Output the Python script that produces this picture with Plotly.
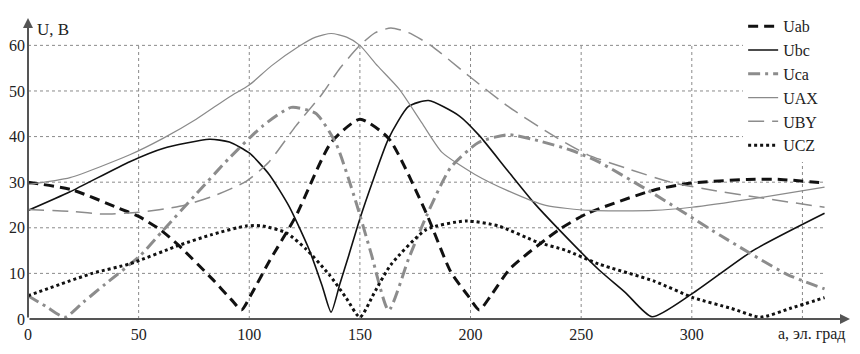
import plotly.graph_objects as go

# ---------------- data ----------------
x_grid = [0, 50, 100, 150, 200, 250, 300, 350]
x_ticks = [0, 50, 100, 150, 200, 250, 300]
y_ticks = [0, 10, 20, 30, 40, 50, 60]

uab_x = [0, 20, 41, 50, 60, 68, 83, 92, 96.5, 101, 109, 121, 137, 150, 163, 180, 191, 199, 204, 209, 218, 240, 253, 283, 300, 325, 340, 360]
uab_y = [30, 28.3, 24.3, 22.5, 19.5, 16.2, 8.9, 4.2, 2, 5.5, 12.6, 22.5, 38.7, 43.8, 39.6, 23.2, 10.4, 5, 2, 5, 11.1, 19.6, 23.2, 28.3, 29.8, 30.6, 30.6, 29.8]

ubc_x = [0, 19, 46, 61, 82, 91, 100, 109, 118, 127, 133, 137, 141, 145, 150, 156, 163, 172, 181, 195, 204, 217, 229, 240, 258, 270, 282, 300, 328, 360]
ubc_y = [23.8, 27.9, 34.5, 37.4, 39.4, 38.8, 36.4, 31.7, 24.7, 15.3, 7.2, 1.5, 7.8, 14, 22, 30.5, 39.6, 46.6, 47.9, 44.5, 40.2, 32.4, 25.3, 19.6, 10.8, 5.8, 0.5, 5.5, 15.1, 23.2]

uca_x = [0, 8, 16.7, 25, 35, 50.5, 61, 76, 91, 106, 119, 130, 139, 148, 155, 163, 172, 180, 191, 203.6, 217, 230.6, 245.5, 257.7, 283, 313, 343, 360]
uca_y = [5.1, 2.8, 0.4, 3.7, 7.7, 13.8, 19.4, 27.4, 35.3, 42.3, 46.4, 45.1, 38.7, 26, 14.5, 1.9, 13.2, 22.5, 33.2, 38.7, 40.4, 39.1, 37, 34.5, 27.4, 18.3, 9.8, 6.6]

uax_x = [0, 19, 46, 61, 76, 91, 100, 110, 122.5, 130, 137, 144, 150, 158, 167.6, 178, 187, 202, 217, 234, 254, 283, 300, 328, 360]
uax_y = [29.5, 31, 36, 39.6, 43.8, 48.7, 51.3, 55.5, 59.8, 61.8, 62.6, 61.8, 60, 55.5, 50.5, 43, 36.6, 31.7, 28.1, 24.9, 23.8, 23.8, 24.5, 26.4, 28.9]

uby_x = [0, 20, 34, 50, 68.5, 83, 98.6, 109, 121, 133, 141, 150, 157, 164, 172, 182, 200, 217, 235, 253, 272, 290.5, 310, 328, 360]
uby_y = [24, 23.6, 23, 23.4, 24.7, 26.8, 30.2, 34.5, 42.3, 49.4, 55, 60, 62.8, 63.8, 62.8, 60, 53, 46.6, 40.9, 36, 32.8, 30, 28.2, 26.8, 24.5]

ucz_x = [0, 29, 46, 68.5, 83, 98.6, 106, 116.7, 125.7, 136, 143.7, 150, 157, 164, 180, 198, 212.6, 230.6, 242.8, 257.7, 283, 300.5, 318, 331, 345, 360]
ucz_y = [5.1, 10, 12.1, 16.2, 18.5, 20.4, 20.4, 18.9, 15.3, 9.8, 4.7, 0.4, 6.2, 11.9, 19.6, 21.5, 20.4, 16.8, 15.1, 12.1, 8.3, 4.7, 2.3, 0.4, 2.4, 4.7]

series = [
    ("Uab", uab_x, uab_y, dict(color="#111111", width=3, dash="10px,6px")),
    ("Ubc", ubc_x, ubc_y, dict(color="#111111", width=1.6, dash="solid")),
    ("Uca", uca_x, uca_y, dict(color="#8c8c8c", width=3, dash="12px,5px,3px,5px")),
    ("UAX", uax_x, uax_y, dict(color="#8a8a8a", width=1.2, dash="solid")),
    ("UBY", uby_x, uby_y, dict(color="#8c8c8c", width=1.5, dash="16px,8px")),
    ("UCZ", ucz_x, ucz_y, dict(color="#111111", width=3, dash="3px,3px")),
]

FONT = "Liberation Serif, DejaVu Serif, serif"

fig = go.Figure()
for name, xs, ys, ln in series:
    fig.add_trace(go.Scatter(x=xs, y=ys, mode="lines", name=name,
                             line=dict(shape="spline", smoothing=0.6, **ln)))

# grid lines (limited to data area 0..360, 0..60)
shapes = []
for xv in x_grid[1:]:
    shapes.append(dict(type="line", xref="x", yref="y", x0=xv, x1=xv, y0=0, y1=y_ticks[-1],
                       line=dict(color="#8a8a8a", width=1, dash="dot"), layer="below"))
for yv in y_ticks[1:]:
    shapes.append(dict(type="line", xref="x", yref="y", x0=0, x1=360, y0=yv, y1=yv,
                       line=dict(color="#8a8a8a", width=1, dash="dot"), layer="below"))

annotations = [
    # axis lines with arrows
    dict(x=371.5, y=0, ax=0, ay=0, xref="x", yref="y", axref="x", ayref="y", text="",
         showarrow=True, arrowhead=2, arrowsize=1, arrowwidth=2, arrowcolor="#555555"),
    dict(x=0, y=66, ax=0, ay=0, xref="x", yref="y", axref="x", ayref="y", text="",
         showarrow=True, arrowhead=2, arrowsize=1, arrowwidth=2, arrowcolor="#555555"),
    dict(x=3, y=63.5, xref="x", yref="y", text="U, B", showarrow=False,
         xanchor="left", yanchor="middle", font=dict(family=FONT, size=17, color="#222222")),
    dict(x=1.0, y=0, xref="paper", yref="paper", text="a, эл. град", showarrow=False,
         xanchor="right", yanchor="top", yshift=-4, xshift=-3,
         font=dict(family=FONT, size=16, color="#222222")),
]

fig.update_layout(
    width=860, height=354,
    margin=dict(l=28, r=10, t=9, b=35),
    plot_bgcolor="white", paper_bgcolor="white",
    font=dict(family=FONT, size=16, color="#222222"),
    shapes=shapes, annotations=annotations,
    legend=dict(x=0.870, y=1.029, xanchor="left", yanchor="top", bgcolor="white",
                font=dict(family=FONT, size=16, color="#222222"), borderwidth=0),
    showlegend=True,
)
fig.update_xaxes(range=[0, 371.5], tickvals=x_ticks, ticktext=[str(v) for v in x_ticks],
                 showgrid=False, zeroline=False, showline=False, ticks="", automargin=False,
                 ticklabelstandoff=4)
fig.update_yaxes(range=[0, 66], tickvals=y_ticks, ticktext=[str(v) for v in y_ticks],
                 showgrid=False, zeroline=False, showline=False, ticks="", automargin=False,
                 ticklabelstandoff=2)

# remove the browser's default 8px body margin so the figure sits at the page origin
fig.write_html("out.html", config={"displayModeBar": False},
               post_script="document.body.style.margin='0';")
